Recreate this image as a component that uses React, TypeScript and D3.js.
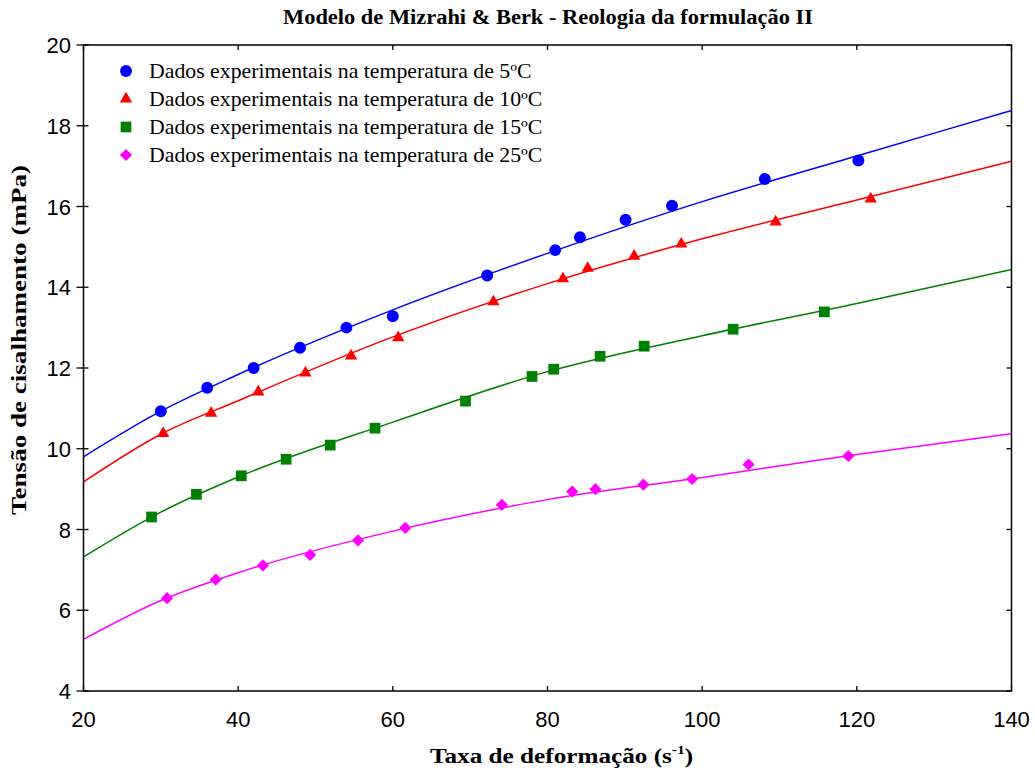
import React from "react";
import * as d3 from "d3";

const W = 1035;
const H = 773;

const title = "Modelo de Mizrahi & Berk - Reologia da formulação II";
const yLabel = "Tensão de cisalhamento (mPa)";
const xTicks = [20, 40, 60, 80, 100, 120, 140];
const yTicks = [4, 6, 8, 10, 12, 14, 16, 18, 20];

// experimental data
const x5 = [30, 36, 42, 48, 54, 60, 72.2, 81, 84.2, 90.1, 96.1, 108.1, 120.2];
const y5 = [10.93, 11.51, 12.0, 12.5, 13.0, 13.28, 14.29, 14.92, 15.24, 15.67, 16.02, 16.68, 17.14];
const x10 = [30.3, 36.5, 42.6, 48.7, 54.6, 60.7, 73.0, 82.0, 85.2, 91.2, 97.3, 109.5, 121.8];
const y10 = [10.38, 10.88, 11.41, 11.88, 12.3, 12.75, 13.64, 14.21, 14.47, 14.77, 15.07, 15.62, 16.19];
const x15 = [28.8, 34.6, 40.4, 46.2, 51.9, 57.7, 69.4, 78.0, 80.8, 86.8, 92.5, 104.0, 115.8];
const y15 = [8.31, 8.87, 9.33, 9.74, 10.09, 10.51, 11.18, 11.79, 11.97, 12.29, 12.54, 12.96, 13.39];
const x25 = [30.8, 37.1, 43.2, 49.3, 55.5, 61.6, 74.1, 83.2, 86.2, 92.4, 98.7, 106.0, 118.9];
const y25 = [6.3, 6.76, 7.11, 7.37, 7.73, 8.04, 8.61, 8.94, 9.0, 9.11, 9.25, 9.61, 9.82];

// fitted model curves
const curveX = [20, 30, 40, 60, 80, 100, 120, 140];
const fit5 = [9.8, 10.93, 11.84, 13.44, 14.84, 16.12, 17.25, 18.38];
const fit10 = [9.18, 10.36, 11.19, 12.77, 14.09, 15.2, 16.16, 17.12];
const fit15 = [7.32, 8.43, 9.3, 10.66, 11.91, 12.8, 13.6, 14.44];
const fit25 = [5.28, 6.24, 6.93, 7.96, 8.74, 9.29, 9.86, 10.37];

const labels = [
  "Dados experimentais na temperatura de 5ºC",
  "Dados experimentais na temperatura de 10ºC",
  "Dados experimentais na temperatura de 15ºC",
  "Dados experimentais na temperatura de 25ºC",
];
const colors = ["#0000ff", "#ff0000", "#008000", "#ff00ff"];

const L = 83.5, R = 1011.5, T = 45, B = 691;

const x = d3.scaleLinear().domain([20, 140]).range([L, R]);
const y = d3.scaleLinear().domain([4, 20]).range([B, T]);

const symbols = [
  d3.symbol().type(d3.symbolCircle).size(112)(),
  d3.symbol().type(d3.symbolTriangle).size(66)(),
  d3.symbol().type(d3.symbolSquare).size(115)(),
  d3.symbol().type(d3.symbolSquare).size(74)(),
];
const symRot = [0, 0, 0, 45];

const series = [
  { xs: x5, ys: y5, fit: fit5 },
  { xs: x10, ys: y10, fit: fit10 },
  { xs: x15, ys: y15, fit: fit15 },
  { xs: x25, ys: y25, fit: fit25 },
];

const line = d3
  .line<[number, number]>()
  .x((d) => x(d[0]))
  .y((d) => y(d[1]))
  .curve(d3.curveMonotoneX);

export default function App() {
  const sans = "'Liberation Sans', Arial, sans-serif";
  const serif = "'Liberation Serif', 'Times New Roman', serif";
  return (
    <svg width={W} height={H} style={{ position: "absolute", left: 0, top: 0, background: "#fff" }}>
      <rect x={0} y={0} width={W} height={H} fill="#fff" />
      <text
        x={283}
        y={24}
        fontFamily={serif}
        fontWeight="bold"
        fontSize={20}
        textLength={530}
        lengthAdjust="spacingAndGlyphs"
      >
        {title}
      </text>
      <defs>
        <clipPath id="clip">
          <rect x={L} y={T} width={R - L} height={B - T} />
        </clipPath>
      </defs>
      {/* curves */}
      <g clipPath="url(#clip)">
        {series.map((s, i) => (
          <path
            key={"c" + i}
            d={line(curveX.map((cx, j) => [cx, s.fit[j]] as [number, number])) || ""}
            fill="none"
            stroke={colors[i]}
            strokeWidth={1.5}
          />
        ))}
      </g>
      {/* points */}
      {series.map((s, i) =>
        s.xs.map((xv, j) => (
          <path
            key={"p" + i + "-" + j}
            d={symbols[i] || ""}
            fill={colors[i]}
            transform={`translate(${x(xv)},${y(s.ys[j])}) rotate(${symRot[i]})`}
          />
        ))
      )}
      {/* frame */}
      <rect x={L} y={T} width={R - L} height={B - T} fill="none" stroke="#000" strokeWidth={1.5} />
      {xTicks.map((t) => (
        <g key={"xt" + t}>
          <line x1={x(t)} x2={x(t)} y1={B} y2={B - 5} stroke="#000" strokeWidth={1.3} />
          <line x1={x(t)} x2={x(t)} y1={T} y2={T + 5} stroke="#000" strokeWidth={1.3} />
          <text x={x(t)} y={727} textAnchor="middle" fontFamily={sans} fontSize={22}>
            {t}
          </text>
        </g>
      ))}
      {yTicks.map((t) => (
        <g key={"yt" + t}>
          <line x1={L - 7} x2={L + 5} y1={y(t)} y2={y(t)} stroke="#000" strokeWidth={1.3} />
          <line x1={R} x2={R - 5} y1={y(t)} y2={y(t)} stroke="#000" strokeWidth={1.3} />
          <text x={71} y={y(t) + 8} textAnchor="end" fontFamily={sans} fontSize={22}>
            {t}
          </text>
        </g>
      ))}
      {/* axis labels */}
      <g transform="translate(430,0) scale(1.2,1)">
        <text x={0} y={763} fontFamily={serif} fontWeight="bold" fontSize={21}>
          Taxa de deformação (s
          <tspan fontSize={13} dy={-9}>-1</tspan>
          <tspan dy={9}>)</tspan>
        </text>
      </g>
      <text
        transform={`translate(26,515) rotate(-90)`}
        x={0}
        y={0}
        fontFamily={serif}
        fontWeight="bold"
        fontSize={20}
        textLength={350}
        lengthAdjust="spacingAndGlyphs"
      >
        {yLabel}
      </text>
      {/* legend */}
      {labels.map((lb, i) => (
        <g key={"lg" + i} transform={`translate(0,${71 + i * 28})`}>
          <path d={symbols[i] || ""} fill={colors[i]} transform={`translate(126,0) rotate(${symRot[i]})`} />
          <g transform="translate(149,0) scale(1.09,1)">
            <text x={0} y={7} fontFamily={serif} fontSize={20}>
              {lb}
            </text>
          </g>
        </g>
      ))}
    </svg>
  );
}
